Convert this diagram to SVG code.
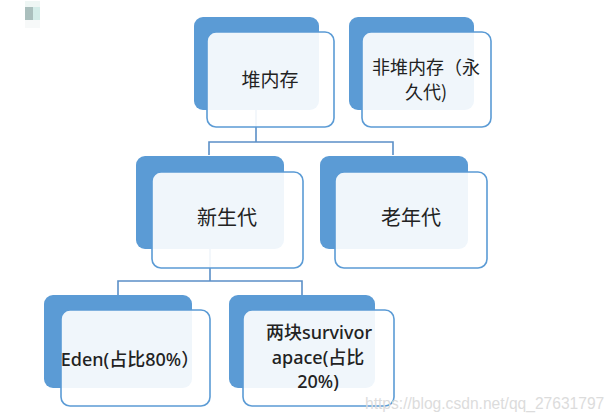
<svg xmlns="http://www.w3.org/2000/svg" width="616" height="420" viewBox="0 0 616 420">
<style>
.back{fill:#5b9bd5;}
.front{fill:#ffffff;fill-opacity:0.91;stroke:#5b9bd5;stroke-width:1.6;}
.conn{fill:none;stroke:#5b8fc7;stroke-width:1.6;}
.t{font-family:"Noto Sans CJK SC","Noto Sans",sans-serif;fill:#222;text-anchor:middle;}
.l{font-family:"Noto Sans","Noto Sans CJK SC",sans-serif;fill:#222;text-anchor:middle;font-weight:500;}
.wm{font-family:"Liberation Sans",Arial,sans-serif;fill:#dcdcdc;font-size:15.6px;}
</style>
<rect width="616" height="420" fill="#ffffff"/>
<g id="blob">
<rect x="25" y="1" width="15" height="6" fill="#eef6f4"/>
<rect x="25" y="7" width="8" height="13" fill="#aabfbd"/>
<rect x="33" y="7" width="7" height="13" fill="#d3ece8"/>
<rect x="25" y="20" width="15" height="8" fill="#f7f9f9"/>
</g>
<g id="connectors">
<path class="conn" d="M256,110 V142 M209,155 V142 H393 V155"/>
<path class="conn" d="M210,249 V281 M118,295 V281 H302 V295"/>
</g>
<g id="heap">
<rect class="back" x="194" y="17" width="125" height="93" rx="9"/>
<rect class="front" x="207" y="32" width="127" height="95" rx="9"/>
<text class="t" x="270" y="87" font-size="19">堆内存</text>
</g>
<g id="nonheap">
<rect class="back" x="349" y="17" width="125" height="93" rx="9"/>
<rect class="front" x="362" y="32" width="129" height="95" rx="9"/>
<text class="t" x="426" y="74" font-size="18">非堆内存（永</text>
<text class="t" x="426" y="99" font-size="18">久代)</text>
</g>
<g id="young">
<rect class="back" x="136" y="156" width="148" height="93" rx="9"/>
<rect class="front" x="152" y="172" width="151" height="96" rx="9"/>
<text class="t" x="227" y="225" font-size="20">新生代</text>
</g>
<g id="old">
<rect class="back" x="320" y="156" width="148" height="93" rx="9"/>
<rect class="front" x="335" y="172" width="152" height="96" rx="9"/>
<text class="t" x="411" y="225" font-size="20">老年代</text>
</g>
<g id="eden">
<rect class="back" x="44" y="295" width="148" height="93" rx="9"/>
<rect class="front" x="61" y="310" width="149" height="96" rx="9"/>
<text class="l" x="130" y="366" font-size="18">Eden(占比80%）</text>
</g>
<g id="survivor">
<rect class="back" x="229" y="295" width="146" height="93" rx="9"/>
<rect class="front" x="243" y="310" width="151" height="96" rx="9"/>
<text class="l" x="319" y="339" font-size="18">两块survivor</text>
<text class="l" x="318" y="364" font-size="18">apace(占比</text>
<text class="l" x="318" y="388" font-size="18">20%)</text>
</g>
<text class="wm" x="365" y="409">https://blog.csdn.net/qq_27631797</text>
</svg>
